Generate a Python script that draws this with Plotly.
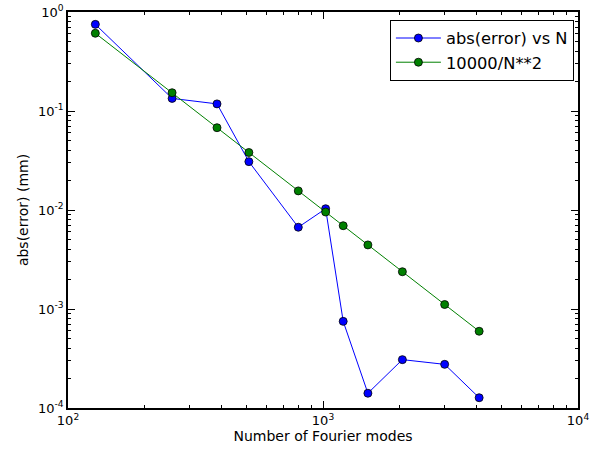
import plotly.graph_objects as go

# Data
n_modes = [128, 256, 384, 512, 800, 1024, 1200, 1500, 2048, 3000, 4096]
abs_error = [0.75, 0.134, 0.118, 0.0308, 0.0067, 0.0103, 0.00075, 0.000141, 0.000308, 0.000276, 0.000127]
ref_curve = [0.610, 0.153, 0.0678, 0.0381, 0.0156, 0.00954, 0.00694, 0.00444, 0.00238, 0.00111, 0.000596]

x_tickvals = [100, 1000, 10000]
x_ticktext = ["10<sup>2</sup>", "10<sup>3</sup>", "10<sup>4</sup>"]
y_tickvals = [1e-4, 1e-3, 1e-2, 1e-1, 1]
y_ticktext = ["10<sup>-4</sup>", "10<sup>-3</sup>", "10<sup>-2</sup>", "10<sup>-1</sup>", "10<sup>0</sup>"]

x_minor = [m * 10 ** e for e in (2, 3) for m in range(2, 10)]
y_minor = [m * 10.0 ** e for e in (-4, -3, -2, -1) for m in range(2, 10)]

fig = go.Figure()
fig.add_trace(go.Scatter(
    x=n_modes, y=abs_error, mode="lines+markers", name="abs(error) vs N",
    line=dict(color="#0000ff", width=1),
    marker=dict(color="#0000ff", size=8, line=dict(color="black", width=0.8)),
))
fig.add_trace(go.Scatter(
    x=n_modes, y=ref_curve, mode="lines+markers", name="10000/N**2",
    line=dict(color="#008000", width=1),
    marker=dict(color="#008000", size=8, line=dict(color="black", width=0.8)),
))

axis_common = dict(
    type="log", showgrid=False, zeroline=False, showline=True,
    linecolor="black", linewidth=1.5, mirror="allticks",
    ticks="inside", ticklen=7, tickwidth=1, tickcolor="black",
    tickfont=dict(family="DejaVu Sans", size=13, color="black"),
    automargin=False,
)

fig.update_xaxes(
    **axis_common, range=[2, 4], tickmode="array",
    tickvals=x_tickvals, ticktext=x_ticktext,
    minor=dict(tickmode="array", tickvals=x_minor, ticks="inside", ticklen=3.5, tickcolor="black"),
    title=dict(text="Number of Fourier modes", font=dict(family="DejaVu Sans", size=14, color="black"), standoff=4),
)
fig.update_yaxes(
    **axis_common, range=[-4, 0], tickmode="array",
    tickvals=y_tickvals, ticktext=y_ticktext,
    minor=dict(tickmode="array", tickvals=y_minor, ticks="inside", ticklen=3.5, tickcolor="black"),
    title=dict(text="abs(error) (mm)", font=dict(family="DejaVu Sans", size=14, color="black"), standoff=6),
)

fig.update_layout(
    width=598, height=451,
    margin=dict(l=68, r=20, t=12, b=43),
    paper_bgcolor="white", plot_bgcolor="white",
    font=dict(family="DejaVu Sans", color="black"),
    legend=dict(
        x=0.992, y=0.98, xanchor="right", yanchor="top",
        bordercolor="black", borderwidth=1, bgcolor="white",
        itemwidth=45,
        font=dict(family="DejaVu Sans", size=16.3, color="black"),
    ),
)

fig.write_html(
    "out.html",
    config={"displayModeBar": False},
    post_script="document.body.style.margin='0';",
)
